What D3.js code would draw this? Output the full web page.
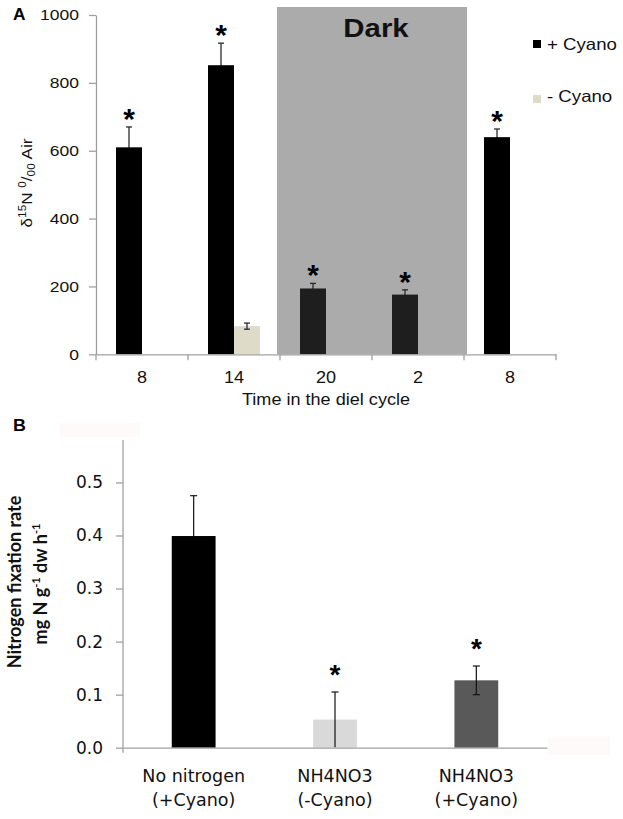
<!DOCTYPE html>
<html>
<head>
<meta charset="utf-8">
<script src="https://cdn.jsdelivr.net/npm/d3@7"></script>
<style>
  html, body { margin: 0; padding: 0; background: #fff; }
  svg { display: block; }
</style>
</head>
<body>
<script>
// ---------- Panel A data ----------
const timeLabels = ["8", "14", "20", "2", "8"];
const plusCyano = [610, 852, 194, 176, 640];
const plusCyanoErr = [60, 65, 15, 14, 24];
const minusCyano = [null, 83, null, null, null];
const minusCyanoErr = [null, 9, null, null, null];
const darkPeriod = [2, 3];           // indices of the dark period
const yTicksA = [0, 200, 400, 600, 800, 1000];
const seriesA = ["+ Cyano", "- Cyano"];
const sigA = [true, true, true, true, true];

// ---------- Panel B data ----------
const treatments = ["No nitrogen|(+Cyano)", "NH4NO3|(-Cyano)", "NH4NO3|(+Cyano)"];
const fixRate = [0.399, 0.053, 0.127];
const fixErr = [0.076, 0.052, 0.027];
const sigB = [false, true, true];
const yTicksB = [0, 0.1, 0.2, 0.3, 0.4, 0.5];

const W = 623, H = 819;
const svg = d3.select("body").append("svg").attr("width", W).attr("height", H);

const K = 1.13; // horizontal stretch of text in panel A
function stretch(sel, k) {
  sel.each(function () {
    const t = d3.select(this);
    const x = +t.attr("x") || 0;
    t.attr("x", x / k).attr("transform", `scale(${k},1)`);
  });
}
const axisGrey = "#a0a0a0";

// ================= PANEL A =================
const xA = d3.scaleBand().domain(d3.range(timeLabels.length)).range([96, 556]).padding(0);
const xSubA = d3.scaleBand().domain(seriesA).range([0, xA.bandwidth()]).paddingInner(0).paddingOuter(0.77);
const yA = d3.scaleLinear().domain([0, 1000]).range([354.3, 15]);
const colorA = { "+ Cyano": "#000000", "- Cyano": "#dedbc8" };
const darkBarColor = "#1e1e1e";

const gA = svg.append("g");

// dark period background
const dx0 = xA(darkPeriod[0]) - 3, dx1 = xA(darkPeriod[1]) + xA.bandwidth() + 3;
gA.append("rect")
  .attr("x", dx0).attr("y", yA(1000) - 8)
  .attr("width", dx1 - dx0).attr("height", yA(0) - yA(1000) + 8)
  .attr("fill", "#ababab");
const darkT = gA.append("text")
  .attr("x", (dx0 + dx1) / 2 + 4).attr("y", 37)
  .attr("text-anchor", "middle")
  .attr("font-family", "Liberation Sans, Arial, sans-serif")
  .attr("font-weight", "bold").attr("font-size", 26)
  .attr("fill", "#111").text("Dark");
stretch(darkT, K);

// bars data
const inDark = i => i >= darkPeriod[0] && i <= darkPeriod[1];
const barsA = [];
timeLabels.forEach((t, i) => {
  if (plusCyano[i] != null) barsA.push({ i, s: "+ Cyano", v: plusCyano[i], e: plusCyanoErr[i] });
  if (minusCyano[i] != null) barsA.push({ i, s: "- Cyano", v: minusCyano[i], e: minusCyanoErr[i] });
});
const cxA = d => xA(d.i) + xSubA(d.s) + xSubA.bandwidth() / 2;

function drawErrA(layer, data) {
  const g = layer.selectAll(null).data(data).join("g")
    .attr("stroke", "#2a2a2a").attr("stroke-width", 1.3);
  g.append("line").attr("x1", cxA).attr("x2", cxA)
    .attr("y1", d => yA(d.v - d.e)).attr("y2", d => yA(d.v + d.e));
  [1, -1].forEach(sg => {
    g.append("line").attr("x1", d => cxA(d) - 3).attr("x2", d => cxA(d) + 3)
      .attr("y1", d => yA(d.v + sg * d.e)).attr("y2", d => yA(d.v + sg * d.e));
  });
}
// error bars of dark bars sit behind the bars (lower half hidden)
drawErrA(gA.append("g"), barsA.filter(d => d.s === "+ Cyano"));

gA.selectAll("rect.bar").data(barsA).join("rect")
  .attr("class", "bar")
  .attr("x", d => xA(d.i) + xSubA(d.s))
  .attr("y", d => yA(d.v))
  .attr("width", xSubA.bandwidth())
  .attr("height", d => yA(0) - yA(d.v))
  .attr("fill", d => d.s === "+ Cyano" && inDark(d.i) ? darkBarColor : colorA[d.s]);

drawErrA(gA.append("g"), barsA.filter(d => d.s === "- Cyano"));

// asterisks
gA.selectAll("text.star").data(barsA.filter(d => d.s === "+ Cyano" && sigA[d.i])).join("text")
  .attr("class", "star")
  .attr("x", cxA)
  .attr("y", d => yA(d.v + d.e) + 2)
  .attr("text-anchor", "middle")
  .attr("font-family", "Liberation Sans, Arial, sans-serif")
  .attr("font-weight", "bold").attr("font-size", 30)
  .text("*");

// y axis A
const yAxisA = gA.append("g").attr("transform", "translate(96,0)")
  .call(d3.axisLeft(yA).tickValues(yTicksA).tickFormat(d3.format("d")).tickSize(7).tickSizeOuter(0).tickPadding(10));
yAxisA.select(".domain").attr("stroke", axisGrey).attr("stroke-width", 1.3);
yAxisA.selectAll(".tick line").attr("stroke", axisGrey).attr("stroke-width", 1.3);
yAxisA.selectAll("text").attr("font-family", "Liberation Sans, Arial, sans-serif")
  .attr("font-size", 15.5).attr("fill", "#111");
stretch(yAxisA.selectAll("text"), K);

// x axis A
const xAxisA = gA.append("g").attr("transform", `translate(0,${yA(0)})`)
  .call(d3.axisBottom(xA).tickFormat(i => timeLabels[i]).tickSize(0).tickPadding(17));
xAxisA.select(".domain").attr("stroke", axisGrey).attr("stroke-width", 1.3);
xAxisA.selectAll("text").attr("font-family", "Liberation Sans, Arial, sans-serif")
  .attr("font-size", 16).attr("fill", "#111");
stretch(xAxisA.selectAll("text"), K);
const edgesA = d3.range(timeLabels.length + 1).map(i => i < timeLabels.length ? xA(i) : xA(i - 1) + xA.bandwidth());
xAxisA.selectAll("line.edge").data(edgesA).join("line").attr("class", "edge")
  .attr("x1", d => d).attr("x2", d => d).attr("y1", 0).attr("y2", 6)
  .attr("stroke", axisGrey).attr("stroke-width", 1.3);

const xTitleA = gA.append("text").attr("x", (96 + 556) / 2).attr("y", 405)
  .attr("text-anchor", "middle")
  .attr("font-family", "Liberation Sans, Arial, sans-serif").attr("font-size", 16)
  .attr("fill", "#111").text("Time in the diel cycle");
stretch(xTitleA, K);

// y label A
const yl = gA.append("text")
  .attr("transform", "translate(32,183) rotate(-90) scale(1.18,1)")
  .attr("text-anchor", "middle")
  .attr("font-family", "Liberation Sans, Arial, sans-serif").attr("font-size", 14.5)
  .attr("fill", "#111");
yl.append("tspan").text("δ");
yl.append("tspan").attr("font-size", 10).attr("dy", -6).text("15");
yl.append("tspan").attr("dy", 6).text("N ");
yl.append("tspan").attr("font-size", 10).attr("dy", -6).text("0");
yl.append("tspan").attr("dy", 6).text("/");
yl.append("tspan").attr("font-size", 10).attr("dy", 3).text("00");
yl.append("tspan").attr("dy", -3).text(" Air");

// legend A
const legY = [40, 95], legTextY = [50, 102];
seriesA.forEach((s, i) => {
  gA.append("rect").attr("x", 533).attr("y", legY[i]).attr("width", 8).attr("height", 8)
    .attr("fill", colorA[s]);
  const t = gA.append("text").attr("x", 547).attr("y", legTextY[i])
    .attr("font-family", "Liberation Sans, Arial, sans-serif").attr("font-size", 16.5)
    .attr("fill", "#111").text(s);
  stretch(t, K);
});

// panel letter A
const la = svg.append("text").attr("x", 13).attr("y", 20)
  .attr("font-family", "Liberation Sans, Arial, sans-serif").attr("font-weight", "bold")
  .attr("font-size", 16.5).text("A");
stretch(la, 1.05);

// ================= PANEL B =================
const xB = d3.scaleBand().domain(treatments).range([123, 547]).padding(0);
const barW = xB.bandwidth() * 0.31;
const yB = d3.scaleLinear().domain([0, 0.58]).range([747.7, 440]);
const colorB = ["#000000", "#d9d9d9", "#595959"];
const gB = svg.append("g");

// faint background artefacts
gB.append("rect").attr("x", 60).attr("y", 423).attr("width", 80).attr("height", 14).attr("fill", "#fffafa");
gB.append("rect").attr("x", 548).attr("y", 737).attr("width", 62).attr("height", 18).attr("fill", "#fffafa");

const dataB = treatments.map((t, i) => ({ t, i, v: fixRate[i], e: fixErr[i] }));
const cxB = d => xB(d.t) + xB.bandwidth() / 2;

function drawErrB(layer, data) {
  const g = layer.selectAll(null).data(data).join("g")
    .attr("stroke", "#111").attr("stroke-width", 1.2);
  g.append("line").attr("x1", cxB).attr("x2", cxB)
    .attr("y1", d => yB(Math.max(0, d.v - d.e))).attr("y2", d => yB(d.v + d.e));
  g.append("line").attr("x1", d => cxB(d) - 3.5).attr("x2", d => cxB(d) + 3.5)
    .attr("y1", d => yB(d.v + d.e)).attr("y2", d => yB(d.v + d.e));
  g.filter(d => d.v - d.e > 0.005).append("line")
    .attr("x1", d => cxB(d) - 3.5).attr("x2", d => cxB(d) + 3.5)
    .attr("y1", d => yB(d.v - d.e)).attr("y2", d => yB(d.v - d.e));
}
drawErrB(gB.append("g"), dataB.filter(d => d.i === 0));

gB.selectAll("rect.bar").data(dataB).join("rect").attr("class", "bar")
  .attr("x", d => cxB(d) - barW / 2)
  .attr("y", d => yB(d.v))
  .attr("width", barW)
  .attr("height", d => yB(0) - yB(d.v))
  .attr("fill", d => colorB[d.i]);

drawErrB(gB.append("g"), dataB.filter(d => d.i !== 0));

gB.selectAll("text.star").data(dataB.filter(d => sigB[d.i])).join("text").attr("class", "star")
  .attr("x", cxB).attr("y", d => yB(d.v + d.e) - 8)
  .attr("text-anchor", "middle")
  .attr("font-family", "Liberation Sans, Arial, sans-serif")
  .attr("font-weight", "bold").attr("font-size", 28).text("*");

// axes B
const yAxisB = gB.append("g").attr("transform", "translate(123,0)")
  .call(d3.axisLeft(yB).tickValues(yTicksB).tickFormat(d3.format(".1f")).tickSize(7).tickSizeOuter(0).tickPadding(13));
yAxisB.select(".domain").remove();
yAxisB.append("line").attr("x1", 0).attr("x2", 0).attr("y1", yB(0) + 5).attr("y2", yB(0.58))
  .attr("stroke", axisGrey).attr("stroke-width", 1.3);
yAxisB.selectAll(".tick line").attr("stroke", axisGrey).attr("stroke-width", 1.3);
yAxisB.selectAll("text").attr("font-family", "DejaVu Sans, Verdana, sans-serif")
  .attr("font-size", 17).attr("fill", "#111");

const xAxisB = gB.append("g").attr("transform", `translate(0,${yB(0)})`)
  .call(d3.axisBottom(xB).tickSize(0).tickFormat(""));
xAxisB.select(".domain").attr("stroke", axisGrey).attr("stroke-width", 1.3);
dataB.forEach(d => {
  const lines = d.t.split("|");
  const t = gB.append("text").attr("text-anchor", "middle")
    .attr("font-family", "DejaVu Sans, Verdana, sans-serif").attr("font-size", 17.5)
    .attr("fill", "#111");
  lines.forEach((ln, j) => t.append("tspan").attr("x", cxB(d)).attr("y", 782 + j * 24).text(ln));
});

// y label B
const ylB = gB.append("g").attr("font-family", "Lato, sans-serif").attr("font-weight", "bold")
  .attr("font-size", 18).attr("fill", "#111").attr("text-anchor", "middle");
ylB.append("text").attr("transform", "translate(21,582) rotate(-90)").text("Nitrogen fixation rate");
const l2 = ylB.append("text").attr("transform", "translate(46.5,584) rotate(-90)");
l2.append("tspan").text("mg N g");
l2.append("tspan").attr("font-size", 11).attr("dy", -7).text("-1");
l2.append("tspan").attr("dy", 7).text(" dw h");
l2.append("tspan").attr("font-size", 11).attr("dy", -7).text("-1");

const lb = svg.append("text").attr("x", 13).attr("y", 431)
  .attr("font-family", "Liberation Sans, Arial, sans-serif").attr("font-weight", "bold")
  .attr("font-size", 17).text("B");
stretch(lb, 1.05);
</script>
</body>
</html>
